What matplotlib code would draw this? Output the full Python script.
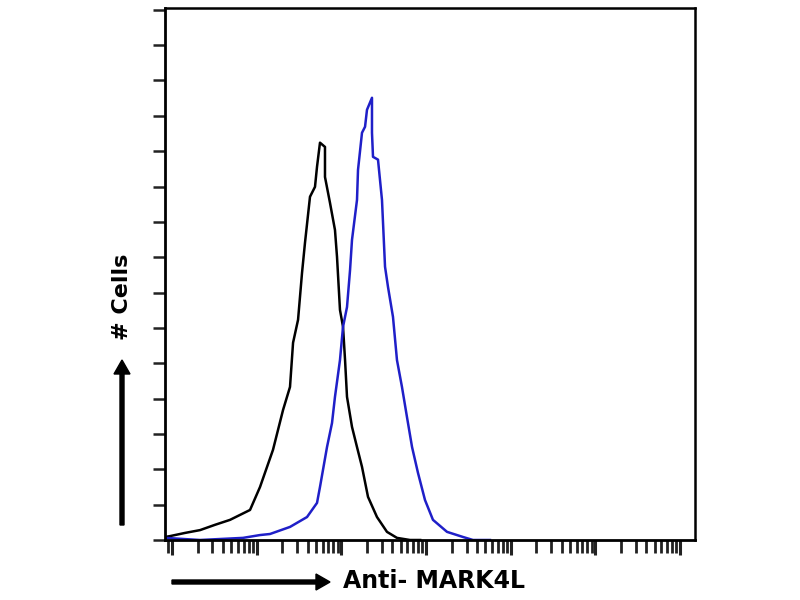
import numpy as np
import matplotlib
matplotlib.use('Agg')
import matplotlib.pyplot as plt

# %%
# Histogram traces (log10 intensity, cell count)
ctrl_log = [-0.083, -0.024, 0.153, 0.331, 0.508, 0.685, 0.803, 0.921, 1.039, 1.192,
            1.311, 1.393, 1.429, 1.488, 1.535, 1.570, 1.629, 1.688, 1.712, 1.747,
            1.806, 1.806, 1.865, 1.924, 1.948, 1.983, 2.019, 2.043, 2.066, 2.125,
            2.184, 2.243, 2.314, 2.420, 2.538, 2.656, 2.810, 2.930]
ctrl_cnt = [0.85, 1.1, 2.0, 2.8, 4.3, 5.7, 7.1, 8.5, 15.0, 25.5,
            36.8, 43.3, 55.8, 62.3, 75.6, 84.1, 97.1, 99.9, 105.6, 112.4,
            111.2, 102.7, 95.4, 87.7, 80.1, 65.1, 60.3, 50.9, 40.5, 32.0,
            26.3, 20.7, 12.2, 6.5, 2.3, 0.6, 0.0, 0.0]

mark_log = [-0.083, 0.331, 0.838, 1.039, 1.157, 1.393, 1.594, 1.712, 1.747, 1.830,
            1.889, 1.924, 1.983, 2.019, 2.066, 2.102, 2.125, 2.184, 2.196, 2.243,
            2.279, 2.302, 2.361, 2.361, 2.373, 2.432, 2.479, 2.515, 2.550, 2.609,
            2.656, 2.715, 2.774, 2.834, 2.904, 2.987, 3.081, 3.247, 3.436, 3.554,
            3.754]
mark_cnt = [0.6, 0.0, 0.6, 1.4, 1.7, 3.7, 6.5, 10.5, 15.0, 26.3,
            33.1, 40.5, 50.9, 60.3, 65.9, 76.4, 84.9, 96.2, 104.7, 115.2,
            116.9, 121.7, 125.1, 115.2, 108.4, 107.6, 96.2, 77.3, 71.6, 63.1,
            50.9, 43.3, 34.8, 26.3, 19.0, 11.3, 5.7, 2.3, 0.85, 0.0,
            0.0]

x_label = 'Anti- MARK4L'
y_label = '# Cells'

# %%
fig = plt.figure(figsize=(8, 6), dpi=100)
ax = fig.add_axes([165/800, 60/600, 530/800, 532/600])

ax.plot(10**np.array(ctrl_log), ctrl_cnt, color='black', lw=1.8)
ax.plot(10**np.array(mark_log), mark_cnt, color='#1f1fc8', lw=1.8)

ax.set_xscale('log')
ax.set_xlim(10**-0.083, 10**6.175)
ax.set_ylim(0, 150.5)
ax.set_yticks(np.arange(0, 151, 10))
ax.set_xticks(10.0**np.arange(0, 7))
ax.xaxis.set_minor_locator(matplotlib.ticker.LogLocator(base=10, subs=np.arange(2, 10), numticks=20))
ax.set_xticklabels([])
ax.set_yticklabels([])
ax.xaxis.set_minor_formatter(matplotlib.ticker.NullFormatter())
ax.tick_params(axis='y', length=9, width=1.8, color='#222222')
ax.tick_params(axis='x', which='major', length=11, width=2.2, color='#222222')
ax.tick_params(axis='x', which='minor', length=9, width=2.0, color='#222222')
for s in ['left', 'bottom']:
    ax.spines[s].set_linewidth(2.0)
for s in ['top', 'right']:
    ax.spines[s].set_linewidth(1.8)

# arrows and labels
fig.patches.append(matplotlib.patches.FancyArrow(172/800, 1-582/600, 158/800, 0,
                   width=4/600, head_width=16/600, head_length=14/800,
                   length_includes_head=True, color='black', transform=fig.transFigure))
fig.patches.append(matplotlib.patches.FancyArrow(122/800, 1-525/600, 0, 165/600,
                   width=4/800, head_width=16/800, head_length=14/600,
                   length_includes_head=True, color='black', transform=fig.transFigure))
fig.text(343/800, 1-581/600, x_label, fontsize=17, fontweight='bold', va='center', ha='left')
fig.text(122/800, 1-297/600, y_label, fontsize=16, fontweight='bold', va='center', ha='center',
         rotation=90)

plt.savefig('out.png', dpi=100)
